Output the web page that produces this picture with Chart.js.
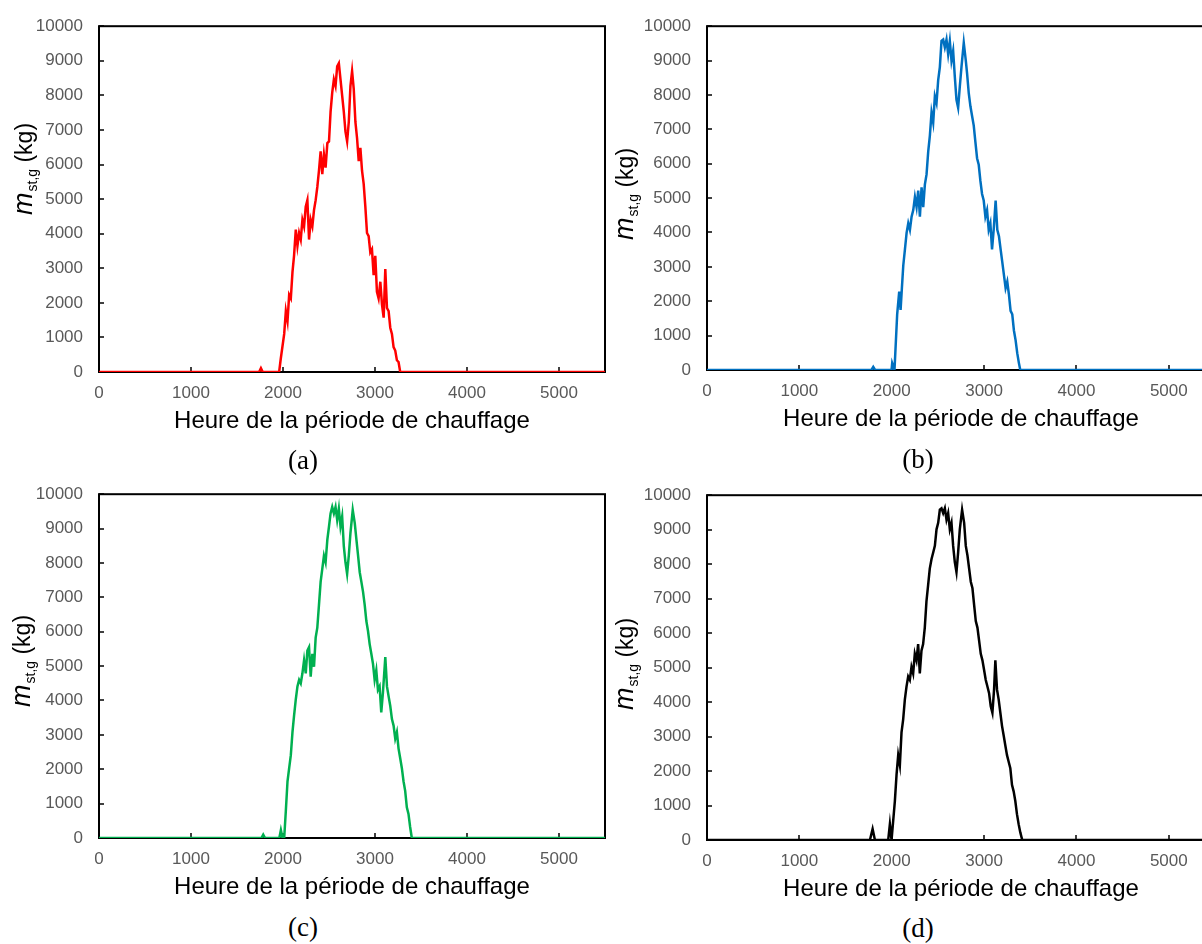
<!DOCTYPE html>
<html>
<head>
<meta charset="utf-8">
<script src="https://cdn.jsdelivr.net/npm/chart.js@4.4.1/dist/chart.umd.min.js"></script>
<style>
  html, body { margin: 0; padding: 0; background: #fff; overflow: hidden; }
  #fig { position: relative; width: 1202px; height: 944px; overflow: hidden; }
  canvas { position: absolute; }
  .cap { position: absolute; width: 80px; margin-left: -40px; text-align: center;
         font-family: "Liberation Serif", "Times New Roman", serif; font-size: 27px; color: #000; line-height: 30px; }
</style>
</head>
<body>
<div id="fig">
  <canvas id="chart-a" width="620" height="440" style="left:0;top:0"></canvas>
  <canvas id="chart-b" width="622" height="438" style="left:608px;top:0"></canvas>
  <canvas id="chart-c" width="620" height="438" style="left:0;top:468px"></canvas>
  <canvas id="chart-d" width="622" height="439" style="left:608px;top:469px"></canvas>
  <div class="cap" style="left:303px;top:445px">(a)</div>
  <div class="cap" style="left:918px;top:444px">(b)</div>
  <div class="cap" style="left:303px;top:912px">(c)</div>
  <div class="cap" style="left:918px;top:913px">(d)</div>
</div>
<script>
  'use strict';

  // heure de la periode de chauffage / masse stockee (kg)
  var hoursA = [0, 1740, 1760, 1780, 1958, 1976, 2013, 2031, 2049, 2067, 2085, 2103, 2120, 2139, 2157, 2175, 2193, 2211, 2229, 2247,
    2265, 2283, 2301, 2319, 2337, 2355, 2373, 2391, 2409, 2427, 2445, 2463, 2482, 2500, 2517, 2535, 2553, 2571, 2589, 2607,
    2625, 2643, 2661, 2679, 2697, 2715, 2733, 2751, 2769, 2787, 2805, 2823, 2841, 2859, 2877, 2895, 2913, 2931, 2949, 2967,
    2985, 3003, 3021, 3039, 3058, 3076, 3094, 3112, 3130, 3148, 3166, 3184, 3202, 3220, 3238, 3256, 3274, 5500];
  var massA = [0, 0, 110, 0, 0, 390, 1100, 1760, 1470, 2230, 2130, 2890, 3360, 4120, 3650, 4020, 3830, 4400, 4210, 4780,
    4970, 3830, 4400, 4210, 4680, 4970, 5350, 5820, 6380, 5720, 6290, 5910, 6620, 6670, 7520, 8080, 8460, 8270, 8840, 8930,
    8460, 7990, 7520, 6950, 6670, 7230, 8270, 8700, 8180, 7230, 6760, 6100, 6480, 5820, 5440, 4780, 4020, 3930, 3460, 3550,
    2800, 3360, 2320, 2130, 2610, 1950, 1570, 2980, 1850, 1760, 1280, 1100, 720, 620, 340, 290, 0, 0];

  var hoursB = [0, 1780, 1800, 1820, 1998, 2005, 2030, 2059, 2081, 2096, 2110, 2125, 2143, 2161, 2179, 2197, 2215, 2233, 2251, 2269,
    2287, 2305, 2323, 2341, 2359, 2377, 2395, 2413, 2431, 2449, 2467, 2485, 2503, 2521, 2539, 2557, 2575, 2593, 2611, 2629,
    2647, 2665, 2683, 2701, 2719, 2737, 2755, 2780, 2802, 2816, 2834, 2852, 2870, 2888, 2906, 2924, 2942, 2960, 2978, 2996,
    3014, 3032, 3050, 3068, 3086, 3104, 3125, 3143, 3161, 3179, 3197, 3215, 3233, 3251, 3269, 3287, 3305, 3323, 3341, 3359,
    3377, 3392, 5500];
  var massB = [0, 0, 90, 0, 0, 200, 0, 1620, 2280, 1750, 2380, 3040, 3510, 3990, 4270, 4080, 4460, 4650, 5030, 4740,
    5220, 4460, 5310, 4740, 5400, 5690, 6350, 6820, 7490, 7200, 7960, 7770, 8430, 8810, 9570, 9610, 9380, 9610, 9190, 9570,
    9000, 9280, 8530, 7860, 7630, 8240, 8810, 9520, 9000, 8620, 8050, 7670, 7390, 7110, 6630, 6160, 5970, 5500, 5120, 4930,
    4460, 4650, 4080, 4270, 3510, 4080, 4930, 4080, 3890, 3510, 3140, 2760, 2380, 2570, 2190, 1720, 1620, 1150, 870, 490,
    200, 0, 0];

  var hoursC = [0, 1765, 1785, 1805, 1960, 1977, 1995, 2013, 2031, 2049, 2067, 2085, 2103, 2120, 2139, 2157, 2175, 2193, 2211, 2229,
    2247, 2265, 2283, 2301, 2319, 2337, 2355, 2373, 2391, 2409, 2427, 2445, 2463, 2482, 2500, 2517, 2535, 2553, 2571, 2589,
    2607, 2625, 2643, 2661, 2679, 2697, 2715, 2733, 2758, 2780, 2798, 2816, 2834, 2852, 2870, 2888, 2906, 2924, 2942, 2960,
    2978, 2996, 3014, 3032, 3050, 3068, 3086, 3112, 3130, 3148, 3166, 3184, 3202, 3220, 3238, 3256, 3274, 3292, 3310, 3328,
    3346, 3364, 3382, 3400, 5500];
  var massC = [0, 0, 100, 0, 0, 230, 0, 0, 800, 1650, 2030, 2410, 3080, 3550, 4030, 4410, 4600, 4500, 4790, 5170,
    4790, 5450, 5550, 4690, 5360, 4980, 5830, 6120, 6780, 7450, 7830, 8210, 8020, 8680, 9060, 9440, 9630, 9440, 9630, 9250,
    9580, 9060, 9350, 8490, 8020, 7680, 8210, 8870, 9540, 9160, 8680, 8210, 7730, 7450, 7160, 6780, 6310, 6020, 5640, 5360,
    5070, 4600, 4880, 4310, 4410, 3650, 4220, 5260, 4410, 4120, 3840, 3460, 3270, 2890, 3080, 2600, 2320, 2030, 1650, 1370,
    890, 700, 320, 0, 0];

  var hoursD = [0, 1764, 1793, 1818, 1962, 1980, 1998, 2034, 2052, 2070, 2088, 2106, 2124, 2142, 2160, 2178, 2196, 2214, 2232, 2250,
    2268, 2286, 2304, 2322, 2340, 2358, 2376, 2394, 2412, 2431, 2449, 2467, 2485, 2503, 2521, 2539, 2557, 2575, 2593, 2611,
    2629, 2647, 2665, 2683, 2701, 2719, 2737, 2762, 2784, 2802, 2820, 2838, 2856, 2874, 2892, 2910, 2928, 2946, 2964, 2982,
    3000, 3018, 3036, 3054, 3072, 3090, 3108, 3122, 3140, 3158, 3176, 3194, 3212, 3230, 3248, 3266, 3284, 3302, 3320, 3338,
    3356, 3374, 3392, 3413, 5500];
  var massD = [0, 0, 320, 0, 0, 460, 0, 1130, 1890, 2460, 2170, 3120, 3500, 4070, 4450, 4740, 4640, 5020, 4830, 5400,
    5210, 5680, 4830, 5490, 5680, 6160, 6920, 7390, 7870, 8150, 8340, 8530, 9010, 9200, 9580, 9620, 9480, 9620, 9290, 9480,
    9010, 9200, 8530, 8060, 7770, 8340, 9010, 9580, 9200, 8530, 8250, 7870, 7490, 7300, 6820, 6350, 6160, 5780, 5400, 5210,
    4930, 4640, 4450, 4260, 3880, 3690, 4360, 5210, 4360, 4070, 3690, 3310, 3030, 2740, 2460, 2270, 2080, 1600, 1410, 1130,
    750, 460, 220, 0, 0];

  var xTicks = [0, 1000, 2000, 3000, 4000, 5000];
  var yTicks = [0, 1000, 2000, 3000, 4000, 5000, 6000, 7000, 8000, 9000, 10000];
  var xTitle = 'Heure de la période de chauffage';
  var xMax = 5500;
  var yMax = 10000;

  // cadre noir + graduations vers l'interieur (comme Excel)
  var framePlugin = {
    id: 'frame',
    beforeDatasetsDraw: function (chart) {
      var ctx = chart.ctx, a = chart.chartArea;
      var xs = chart.scales.x, ys = chart.scales.y;
      ctx.save();
      ctx.strokeStyle = '#000';
      ctx.lineWidth = 1.5;
      xs.ticks.forEach(function (t) {
        var px = Math.round(xs.getPixelForValue(t.value));
        ctx.beginPath(); ctx.moveTo(px, a.bottom); ctx.lineTo(px, a.bottom - 5); ctx.stroke();
      });
      ys.ticks.forEach(function (t) {
        var py = Math.round(ys.getPixelForValue(t.value));
        ctx.beginPath(); ctx.moveTo(a.left, py); ctx.lineTo(a.left + 5, py); ctx.stroke();
      });
      ctx.lineWidth = 2;
      ctx.strokeRect(a.left, a.top, a.right - a.left, a.bottom - a.top);
      ctx.restore();
    }
  };

  // titre de l'axe y : m (italique) + indice st,g + (kg)
  var yTitlePlugin = {
    id: 'ytitle',
    afterDraw: function (chart, args, opts) {
      var ctx = chart.ctx;
      ctx.save();
      ctx.translate(opts.x, opts.y);
      ctx.rotate(-Math.PI / 2);
      ctx.fillStyle = '#000';
      ctx.textBaseline = 'alphabetic';
      ctx.textAlign = 'left';
      ctx.font = 'italic 27px "Liberation Sans", Arial, sans-serif';
      ctx.fillText('m', 0, 0);
      var w = ctx.measureText('m').width;
      ctx.font = '14px "Liberation Sans", Arial, sans-serif';
      ctx.fillText('st,g', w + 1, 5);
      w += 1 + ctx.measureText('st,g').width;
      ctx.font = '23px "Liberation Sans", Arial, sans-serif';
      ctx.fillText(' (kg)', w, 0);
      ctx.restore();
    }
  };

  function makeChart(id, hours, mass, color, titlePos) {
    var points = hours.map(function (h, i) { return { x: h, y: mass[i] }; });
    return new Chart(document.getElementById(id), {
      type: 'line',
      data: {
        datasets: [{
          data: points,
          borderColor: color,
          borderWidth: 2.5,
          pointRadius: 0,
          tension: 0,
          fill: false
        }]
      },
      options: {
        responsive: false,
        animation: false,
        devicePixelRatio: 1,
        layout: { padding: { top: 19, right: 15, left: 0, bottom: 0 } },
        plugins: {
          legend: { display: false },
          tooltip: { enabled: false },
          ytitle: titlePos
        },
        scales: {
          x: {
            type: 'linear',
            min: 0,
            max: xMax,
            afterBuildTicks: function (s) { s.ticks = xTicks.map(function (v) { return { value: v }; }); },
            afterFit: function (s) { s.height = 68; },
            grid: { display: false, drawTicks: false },
            border: { display: false },
            ticks: {
              autoSkip: false,
              padding: 11,
              maxRotation: 0,
              color: '#595959',
              font: { family: '"Liberation Sans", Arial, sans-serif', size: 17 },
              callback: function (v) { return String(v); }
            },
            title: {
              display: true,
              text: xTitle,
              color: '#000',
              padding: { top: 0, bottom: 4 },
              font: { family: '"Liberation Sans", Arial, sans-serif', size: 24 }
            }
          },
          y: {
            min: 0,
            max: yMax,
            afterBuildTicks: function (s) { s.ticks = yTicks.map(function (v) { return { value: v }; }); },
            afterFit: function (s) { s.width = 99; },
            grid: { display: false, drawTicks: false },
            border: { display: false },
            ticks: {
              autoSkip: false,
              padding: 16,
              color: '#595959',
              font: { family: '"Liberation Sans", Arial, sans-serif', size: 17 },
              callback: function (v) { return String(v); }
            }
          }
        }
      },
      plugins: [framePlugin, yTitlePlugin]
    });
  }

  makeChart('chart-a', hoursA, massA, '#FF0000', { x: 32, y: 215 });
  makeChart('chart-b', hoursB, massB, '#0070C0', { x: 25, y: 240 });
  makeChart('chart-c', hoursC, massC, '#00B050', { x: 30, y: 239 });
  makeChart('chart-d', hoursD, massD, '#000000', { x: 25, y: 241 });
</script>
</body>
</html>
